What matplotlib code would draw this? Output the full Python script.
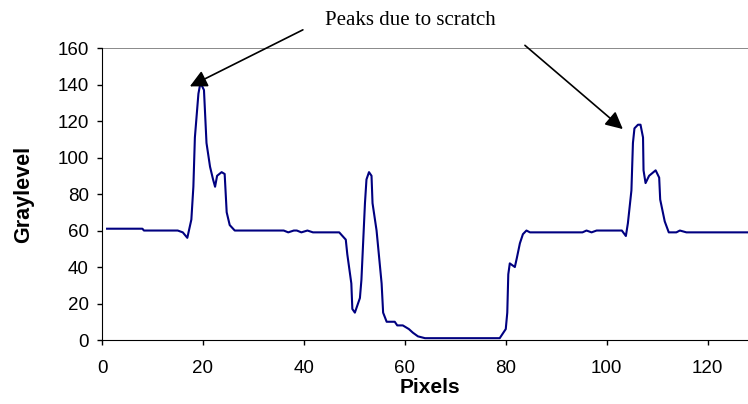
import matplotlib
matplotlib.use("Agg")
import matplotlib.pyplot as plt

# gray level profile across the scratched line
pixels = [1, 8, 8.3, 15, 16, 16.9, 17.7, 18.1, 18.4, 19.1, 19.5, 20.2, 20.7, 21.4,
          22.0, 22.4, 22.8, 23.7, 24.3, 24.7, 25.3, 26.3, 36, 36.9, 38.0, 38.6,
          39.5, 40.7, 41.8, 47, 48.3, 48.6, 49.4, 49.6, 50.1, 51.1, 51.4, 52.1,
          52.4, 52.9, 53.4, 53.6, 54.4, 55.4, 55.7, 56.4, 58, 58.5, 59.6, 60.8,
          61.6, 62.6, 64, 78.8, 80, 80.3, 80.5, 80.8, 81.8, 82.2, 82.8, 83.4,
          84.1, 84.8, 95.2, 96, 97, 98, 103, 103.8, 104.2, 104.9, 105.2, 105.5,
          106.2, 106.7, 107.2, 107.3, 107.7, 108.4, 109.7, 110.4, 110.6, 111.5,
          112.3, 113.8, 114.5, 115.8, 128]
gray = [61, 61, 60, 60, 59, 56, 66, 84, 111, 135, 141, 137, 108, 95,
        88, 84, 90, 92, 91, 70, 63, 60, 60, 59, 60, 60,
        59, 60, 59, 59, 55, 47, 31, 17, 15, 23, 33, 75,
        88, 92, 90, 75, 60, 31, 15, 10, 10, 8, 8, 6,
        4, 2, 1, 1, 6, 15, 36, 42, 40, 45, 53, 58,
        60, 59, 59, 60, 59, 60, 60, 57, 64, 82, 108, 116,
        118, 118, 111, 93, 86, 90, 93, 89, 77, 65,
        59, 59, 60, 59, 59]

xticks = [0, 20, 40, 60, 80, 100, 120]
yticks = [0, 20, 40, 60, 80, 100, 120, 140, 160]

plt.rcParams['font.family'] = ['Liberation Sans', 'DejaVu Sans']

fig = plt.figure(figsize=(7.48, 4.04), dpi=100)
ax = fig.add_axes([0.1364, 0.1584, 0.8636, 0.7226])

ax.plot(pixels, gray, color='#000080', lw=1.5)
ax.axhline(160, color='#808080', lw=1.3)

ax.set_xlim(0, 128)
ax.set_ylim(0, 160)
ax.set_xticks(xticks)
ax.set_yticks(yticks)
ax.tick_params(labelsize=13.5, length=3.6, width=1, direction='out')
ax.tick_params(axis='x', pad=10.5)
ax.tick_params(axis='y', pad=6)
for s in ['top', 'right']:
    ax.spines[s].set_visible(False)

ax.set_xlabel('Pixels', fontsize=15, fontweight='bold', va='baseline')
ax.xaxis.set_label_coords(0.508, -0.182)
ax.set_ylabel('Graylevel', fontsize=15.5, fontweight='bold', va='center')
ax.yaxis.set_label_coords(-0.121, 0.5)

fig.text(0.435, 0.95, 'Peaks due to scratch', fontsize=15,
         family=['Liberation Serif', 'DejaVu Serif'], va='center')

arrow = dict(arrowstyle='-|>', color='black', lw=1.2, mutation_scale=26,
             shrinkA=0, shrinkB=0)
ax.annotate('', xy=(17.4, 139), xytext=(39.8, 170), arrowprops=arrow,
            annotation_clip=False)
ax.annotate('', xy=(103.2, 115.6), xytext=(83.8, 161.5), arrowprops=arrow,
            annotation_clip=False)

fig.savefig('out.png', dpi=100)
